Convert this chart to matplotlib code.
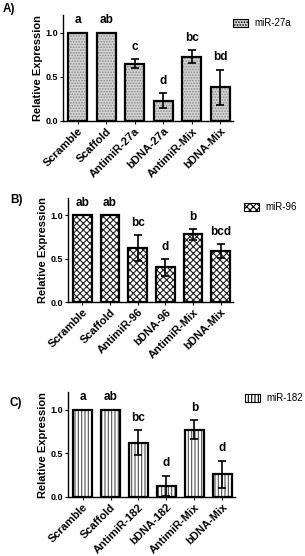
import numpy as np
import matplotlib
matplotlib.use("Agg")
import matplotlib.pyplot as plt

plt.rcParams['font.family'] = ['Liberation Sans', 'DejaVu Sans']
plt.rcParams['hatch.linewidth'] = 0.8

# data
labels_a = ["Scramble", "Scaffold", "AntimiR-27a", "bDNA-27a", "AntimiR-Mix", "bDNA-Mix"]
vals_a = [1.0, 1.0, 0.65, 0.23, 0.73, 0.38]
err_a = [0, 0, 0.05, 0.085, 0.07, 0.2]
sig_a = ["a", "ab", "c", "d", "bc", "bd"]

labels_b = ["Scramble", "Scaffold", "AntimiR-96", "bDNA-96", "AntimiR-Mix", "bDNA-Mix"]
vals_b = [1.0, 1.0, 0.62, 0.40, 0.78, 0.59]
err_b = [0, 0, 0.15, 0.095, 0.065, 0.08]
sig_b = ["ab", "ab", "bc", "d", "b", "bcd"]

labels_c = ["Scramble", "Scaffold", "AntimiR-182", "bDNA-182", "AntimiR-Mix", "bDNA-Mix"]
vals_c = [1.0, 1.0, 0.62, 0.13, 0.77, 0.26]
err_c = [0, 0, 0.145, 0.115, 0.105, 0.155]
sig_c = ["a", "ab", "bc", "d", "b", "d"]

W, H = 305, 556
fig = plt.figure(figsize=(W / 100, H / 100), dpi=100)


def panel(rect, labels, vals, err, sig, name, face, hatch, hcol, letter, lpos, legpos):
    ax = fig.add_axes(rect)
    x = np.arange(len(labels))
    # hatched fill, then black outline on top
    ax.bar(x, vals, width=0.68, color=face, hatch=hatch, edgecolor=hcol, linewidth=0, label=name)
    ax.bar(x, vals, width=0.68, fill=False, edgecolor="black", linewidth=1.6)
    ax.errorbar(x, vals, yerr=err, fmt="none", ecolor="black", elinewidth=1.2, capsize=3, capthick=1.2)
    for xi, v, e, s in zip(x, vals, err, sig):
        ax.text(xi, v + e + 0.14, s, ha="center", va="center", fontsize=8.5, fontweight="bold")
    ax.set_xlim(-0.52, 5.45)
    ax.set_ylim(0, 1.2)
    ax.set_yticks([0, 0.5, 1.0])
    ax.set_yticklabels(["0.0", "0.5", "1.0"], fontsize=6.5, fontweight="bold")
    ax.set_xticks(x)
    ax.set_xticklabels(labels, rotation=45, ha="right", rotation_mode="anchor", fontsize=8, fontweight="bold")
    ax.tick_params(axis="both", length=2.5, width=0.8, pad=1)
    ax.set_ylabel("Relative Expression", fontsize=8, fontweight="bold", labelpad=2)
    for s in ["top", "right"]:
        ax.spines[s].set_visible(False)
    for s in ["left", "bottom"]:
        ax.spines[s].set_linewidth(1.0)
    fig.text(lpos[0] / W, 1 - lpos[1] / H, letter, fontsize=8.5, fontweight="bold", va="center")
    handles, names = ax.get_legend_handles_labels()
    leg = ax.legend(handles[:1], names[:1], loc="center left", bbox_to_anchor=(legpos[0] / W, 1 - legpos[1] / H),
                    bbox_transform=fig.transFigure, frameon=False, fontsize=7,
                    handlelength=1.6, handleheight=0.9, handletextpad=0.6, borderpad=0)
    for p in leg.get_patches():
        p.set_edgecolor("black")
        p.set_linewidth(0.8)
    return ax


panel([63 / W, 1 - 121 / H, 170 / W, 106 / H], labels_a, vals_a, err_a, sig_a, "miR-27a",
      "#d4d4d4", "......", "#8a8a8a", "A)", (3, 9), (228, 23))
panel([68 / W, 1 - 302 / H, 165 / W, 104 / H], labels_b, vals_b, err_b, sig_b, "miR-96",
      "white", "xxxxx", "#202020", "B)", (10, 200), (239, 207))
panel([68 / W, 1 - 497 / H, 167 / W, 105 / H], labels_c, vals_c, err_c, sig_c, "miR-182",
      "white", "|||||", "#505050", "C)", (10, 403), (240, 398))

fig.savefig("out.png", dpi=100)
